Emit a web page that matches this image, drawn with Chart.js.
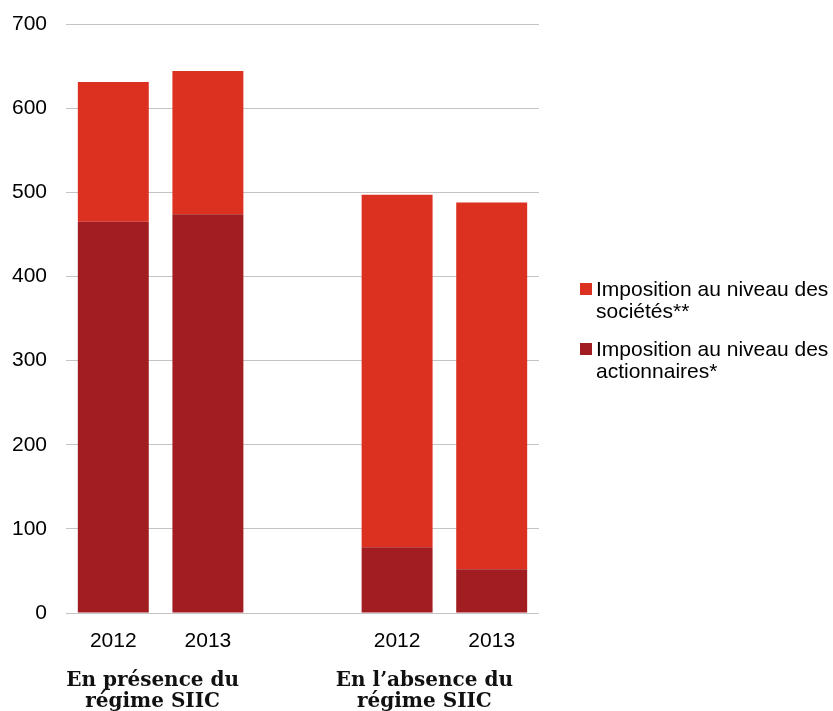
<!DOCTYPE html>
<html>
<head>
<meta charset="utf-8">
<script src="https://cdn.jsdelivr.net/npm/chart.js@4.4.0/dist/chart.umd.min.js"></script>
<style>
  html, body { margin: 0; padding: 0; background: #fff; overflow: hidden; }
  #wrap { position: relative; width: 833px; height: 711px; }
  #legend { position: absolute; left: 580px; top: 278px; font: 21px "Liberation Sans", Arial, sans-serif; line-height: 22px; color: #000; }
  .item { position: relative; padding-left: 16px; margin-bottom: 16px; white-space: nowrap; }
  .item span.sw { position: absolute; left: 0; top: 5px; width: 12px; height: 12px; }
</style>
</head>
<body>
<div id="wrap">
  <canvas id="graf" width="833" height="711"></canvas>
  <div id="legend"></div>
</div>
<script>
// --- datos ---
const categories = ['2012', '2013', '', '2012', '2013'];
const groupLabels = [['En présence du', 'régime SIIC'], ['En l\u2019absence du', 'régime SIIC']];
const shareholders = [465, 474, null, 78, 52];   // Imposition au niveau des actionnaires*
const companies = [166, 170, null, 419, 436];    // Imposition au niveau des sociétés**
const seriesNames = [['Imposition au niveau des', 'actionnaires*'], ['Imposition au niveau des', 'sociétés**']];
const seriesColors = ['#A21D21', '#DC3120'];
const yMax = 700;
const yStep = 100;

// etiquetas de grupo bajo el eje x
const groupLabelPlugin = {
    id: 'groupLabels',
    afterDraw(chart) {
        const x = chart.scales.x;
        const ctx = chart.ctx;
        const centers = [
            (x.getPixelForValue(0) + x.getPixelForValue(1)) / 2 - 8,
            (x.getPixelForValue(3) + x.getPixelForValue(4)) / 2 - 20
        ];
        ctx.save();
        ctx.fillStyle = '#111';
        ctx.font = 'bold 20px "DejaVu Serif", serif';
        ctx.textAlign = 'center';
        ctx.textBaseline = 'alphabetic';
        groupLabels.forEach((lines, i) => {
            lines.forEach((t, j) => ctx.fillText(t, centers[i], 686 + j * 21));
        });
        ctx.restore();
    }
};

const ctx = document.getElementById('graf').getContext('2d');
new Chart(ctx, {
    type: 'bar',
    data: {
        labels: categories,
        datasets: [
            { label: seriesNames[0].join(' '), data: shareholders, backgroundColor: seriesColors[0] },
            { label: seriesNames[1].join(' '), data: companies, backgroundColor: seriesColors[1] }
        ]
    },
    options: {
        responsive: false,
        animation: false,
        devicePixelRatio: 1,
        layout: { padding: { top: 24, right: 294, bottom: 0, left: 0 } },
        datasets: { bar: { barPercentage: 0.75, categoryPercentage: 1 } },
        plugins: { legend: { display: false }, tooltip: { enabled: false } },
        scales: {
            x: {
                stacked: true,
                grid: { display: false },
                border: { display: false },
                ticks: { color: '#000', padding: 8, font: { family: '"Liberation Sans", Arial', size: 21 } },
                afterFit(s) { s.height = 98; }
            },
            y: {
                stacked: true,
                min: 0,
                max: yMax,
                border: { display: false },
                grid: { color: '#c4c4c4', lineWidth: 1, drawTicks: false },
                ticks: { stepSize: yStep, color: '#000', padding: 19, font: { family: '"Liberation Sans", Arial', size: 21 } },
                afterFit(s) { s.width = 66; s.paddingTop = 0; s.paddingBottom = 0; }
            }
        }
    },
    plugins: [groupLabelPlugin]
});

// leyenda (orden invertido: sociétés arriba)
const legend = document.getElementById('legend');
[1, 0].forEach(i => {
    const d = document.createElement('div');
    d.className = 'item';
    d.innerHTML = '<span class="sw" style="background:' + seriesColors[i] + '"></span>' + seriesNames[i].join('<br>');
    legend.appendChild(d);
});
</script>
</body>
</html>
